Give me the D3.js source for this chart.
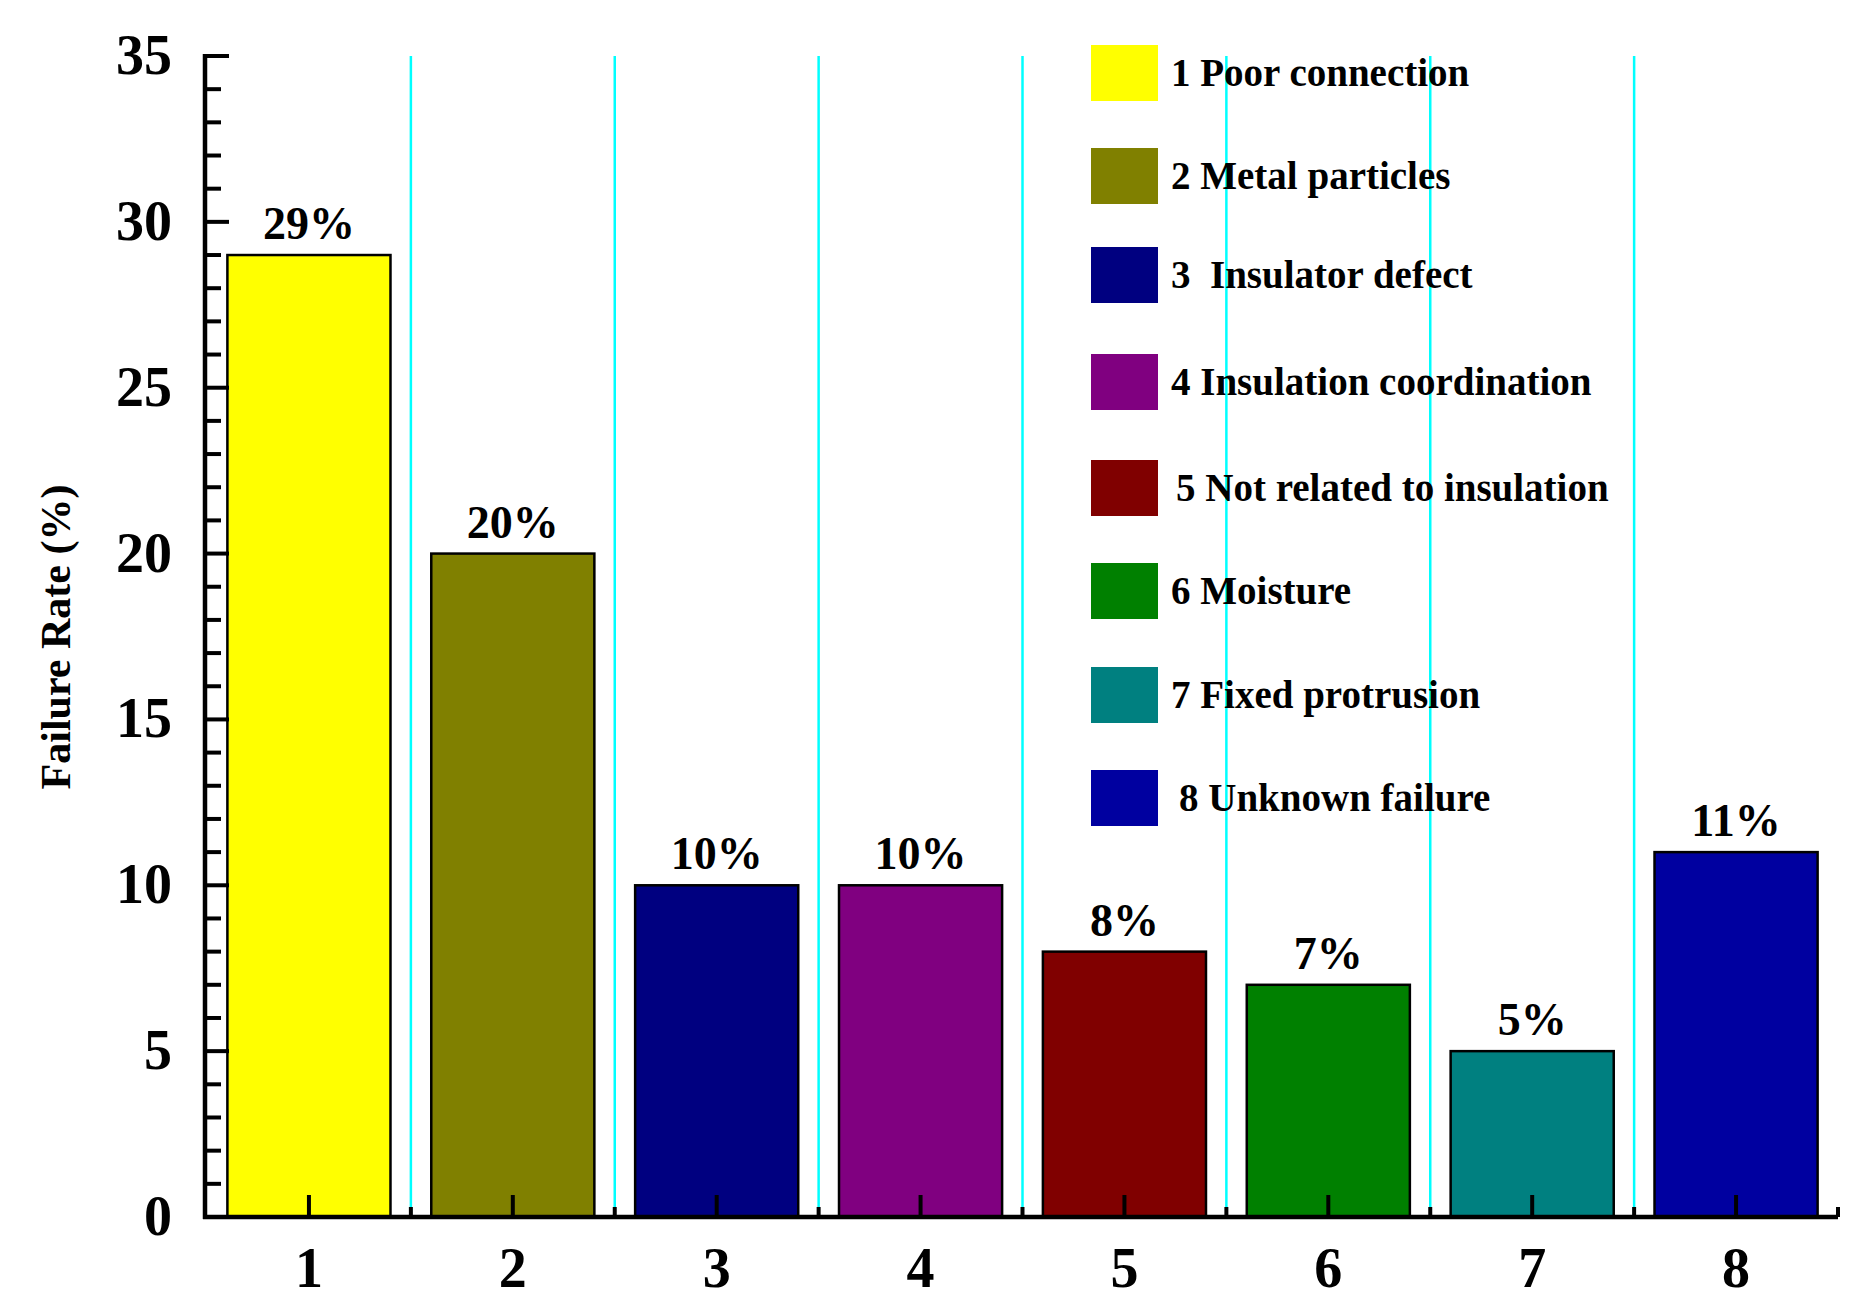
<!DOCTYPE html><html><head><meta charset="utf-8"><script src="https://cdn.jsdelivr.net/npm/d3@7"></script>
<style>body{margin:0;background:#fff}text{font-family:"Liberation Serif","Times New Roman",serif;font-weight:bold}</style></head><body><svg id="c" width="1866" height="1309"></svg><script>
const categories=["1","2","3","4","5","6","7","8"];
const values=[29,20,10,10,8,7,5,11];
const labels=["29%","20%","10%","10%","8%","7%","5%","11%"];
const legendNames=["1 Poor connection","2 Metal particles","3\u00a0 Insulator defect","4 Insulation coordination","5 Not related to insulation","6 Moisture","7 Fixed protrusion","8 Unknown failure"];
const colors=["#ffff00","#808000","#000080","#800080","#800000","#008000","#008080","#0000a0"];
const yTicks=[0,5,10,15,20,25,30,35];
const svg=d3.select("#c");
const L=207,R=1838,T=56,B=1217;
const x=d3.scaleBand().domain(categories).range([L,R]).paddingInner(0.2).paddingOuter(0.1);
const xb=d3.scaleLinear().domain([0,8]).range([L,R]);
const y=d3.scaleLinear().domain([0,35]).range([B,T]);
// cyan separators
svg.selectAll("line.sep").data(d3.range(1,8)).join("line").attr("x1",d=>xb(d)).attr("x2",d=>xb(d)).attr("y1",T).attr("y2",B).attr("stroke","#00ffff").attr("stroke-width",2.5);
// bars
svg.selectAll("rect.bar").data(values).join("rect").attr("x",(d,i)=>x(categories[i])).attr("width",x.bandwidth()).attr("y",d=>y(d)).attr("height",d=>B-y(d)).attr("fill",(d,i)=>colors[i]).attr("stroke","#000").attr("stroke-width",2.5);
svg.selectAll("text.val").data(values).join("text").attr("x",(d,i)=>x(categories[i])+x.bandwidth()/2).attr("y",d=>y(d)-16).attr("text-anchor","middle").attr("font-size",46).text((d,i)=>labels[i]);
// y axis
const yAx=svg.append("g");
yAx.append("line").attr("x1",L-2).attr("x2",L-2).attr("y1",T-2).attr("y2",B+2).attr("stroke","#000").attr("stroke-width",4.5);
yAx.selectAll("line.mn").data(d3.range(0,36)).join("line").attr("x1",L).attr("x2",d=>d%5===0?L+22:L+14).attr("y1",d=>y(d)).attr("y2",d=>y(d)).attr("stroke","#000").attr("stroke-width",4);
yAx.selectAll("text").data(yTicks).join("text").attr("x",172).attr("y",d=>y(d)+18).attr("text-anchor","end").attr("font-size",56).text(d=>d);
// x axis
const xAx=svg.append("g");
xAx.append("line").attr("x1",L-4).attr("x2",R).attr("y1",B).attr("y2",B).attr("stroke","#000").attr("stroke-width",4.5);
xAx.selectAll("line.mj").data(categories).join("line").attr("x1",d=>x(d)+x.bandwidth()/2).attr("x2",d=>x(d)+x.bandwidth()/2).attr("y1",B).attr("y2",B-22).attr("stroke","#000").attr("stroke-width",4);
xAx.selectAll("line.mn").data(d3.range(1,9)).join("line").attr("x1",d=>xb(d)).attr("x2",d=>xb(d)).attr("y1",B).attr("y2",B-10).attr("stroke","#000").attr("stroke-width",4);
xAx.selectAll("text").data(categories).join("text").attr("x",d=>x(d)+x.bandwidth()/2).attr("y",B+70).attr("text-anchor","middle").attr("font-size",56).text(d=>d);
svg.append("text").attr("transform","translate(70,637) rotate(-90)").attr("text-anchor","middle").attr("font-size",42).text("Failure Rate (%)");
// legend
const ly=[73,176,275,382,488,591,695,798];
const lg=svg.selectAll("g.lg").data(legendNames).join("g").attr("transform",(d,i)=>`translate(1091,${ly[i]})`);
lg.append("rect").attr("x",0).attr("y",-28).attr("width",67).attr("height",56).attr("fill",(d,i)=>colors[i]);
lg.append("text").attr("x",(d,i)=>i===4?85:(i===7?88:80)).attr("y",13).attr("font-size",39).text(d=>d);
</script></body></html>
